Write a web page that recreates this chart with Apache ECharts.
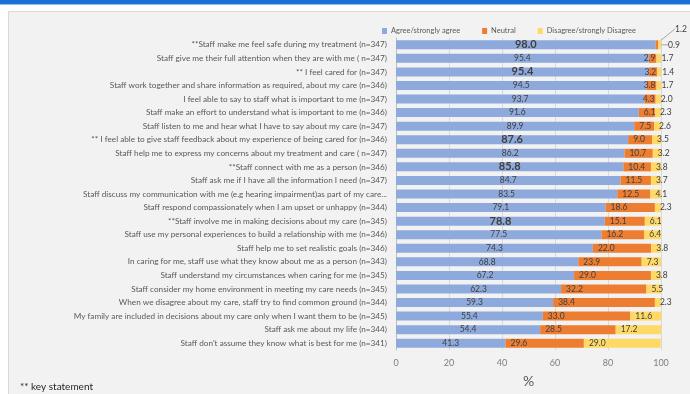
<!DOCTYPE html>
<html><head><meta charset="utf-8">
<script src="https://cdn.jsdelivr.net/npm/echarts@6/dist/echarts.min.js"></script>
<style>html,body{margin:0;padding:0;background:#fff;}#c{width:690px;height:394px;}</style>
</head><body><div id="c"></div>
<script>
var categories = [
"**Staff make me feel safe during my treatment (n=347)",
"Staff give me their full attention when they are with me ( n=347)",
"** I feel cared for (n=347)",
"Staff work together and share information as required, about my care (n=346)",
"I feel able to say to staff what is important to me (n=347)",
"Staff make an effort to understand what is important to me (n=346)",
"Staff listen to me and hear what I have to say about my care (n=347)",
"** I feel able to give staff feedback about my experience of being cared for (n=346)",
"Staff help me to express my concerns about my treatment and care ( n=347)",
"**Staff connect with me as a person (n=346)",
"Staff ask me if I have all the information I need (n=347)",
"Staff discuss my communication with me (e.g hearing impairment)as part of my care...",
"Staff respond compassionately when I am upset or unhappy (n=344)",
"**Staff involve me in making decisions about my care (n=345)",
"Staff use my personal experiences to build a relationship with me (n=346)",
"Staff help me to set realistic goals (n=346)",
"In caring for me, staff use what they know about me as a person (n=343)",
"Staff understand my circumstances when caring for me (n=345)",
"Staff consider my home environment in meeting my care needs (n=345)",
"When we disagree about my care, staff try to find common ground (n=344)",
"My family are included in decisions about my care only when I want them to be (n=345)",
"Staff ask me about my life (n=344)",
"Staff don't assume they know what is best for me (n=341)"
];
var agree = [98.0, 95.4, 95.4, 94.5, 93.7, 91.6, 89.9, 87.6, 86.2, 85.8, 84.7, 83.5, 79.1, 78.8, 77.5, 74.3, 68.8, 67.2, 62.3, 59.3, 55.4, 54.4, 41.3];
var neutral = [0.9, 2.9, 3.2, 3.8, 4.3, 6.1, 7.5, 9.0, 10.7, 10.4, 11.5, 12.5, 18.6, 15.1, 16.2, 22.0, 23.9, 29.0, 32.2, 38.4, 33.0, 28.5, 29.6];
var disagree = [1.2, 1.7, 1.4, 1.7, 2.0, 2.3, 2.6, 3.5, 3.2, 3.8, 3.7, 4.1, 2.3, 6.1, 6.4, 3.8, 7.3, 3.8, 5.5, 2.3, 11.6, 17.2, 29.0];
var keyRows = [0, 2, 7, 9, 13];
var xTicks = [0, 20, 40, 60, 80, 100];
var seriesNames = ["Agree/strongly agree", "Neutral", "Disagree/strongly Disagree"];

var FONT = "Lato";
var chart = echarts.init(document.getElementById('c'), null, {renderer: 'canvas'});

var agreeData = agree.map(function (v, i) {
  return {value: v};
});
var neutralData = neutral.map(function (v, i) {
  var d = {value: v, label: {position: v < 5 ? 'insideRight' : 'insideLeft', distance: v < 5 ? 1 : 5}};
  if (i === 0) { d.label = {position: 'right', distance: 2}; d.labelLine = {show: true}; }
  return d;
});
var disagreeData = disagree.map(function (v, i) {
  var d = {value: v};
  if (i === 0) { d.labelLine = {show: true}; }
  return d;
});

var option = {
  backgroundColor: '#ffffff',
  animation: false,
  textStyle: {fontFamily: FONT},
  graphic: [
    {type: 'rect', left: 0, top: 0, shape: {width: 690, height: 4}, style: {fill: '#1c6fd6'}, z: 0},
    {type: 'rect', left: 0, top: 4, shape: {width: 690, height: 1}, style: {fill: '#8fc4f0'}, z: 0},
    {type: 'rect', left: 8, top: 11, shape: {width: 700, height: 400}, style: {fill: '#f2f2f2', stroke: '#d9d9d9', lineWidth: 1}, z: 0, silent: true},
    {type: 'text', left: 20, top: 382, style: {text: '** key statement', fill: '#262626', font: '10px ' + FONT}, z: 5}
  ],
  legend: {
    data: seriesNames,
    left: 377, top: 22,
    itemWidth: 5, itemHeight: 6, itemGap: 22,
    icon: 'rect',
    textStyle: {color: '#595959', fontSize: 7.5, fontFamily: FONT, padding: [0, 0, 0, -1]}
  },
  grid: {left: 396, right: 29, top: 38, bottom: 44, containLabel: false},
  xAxis: {
    type: 'value', min: 0, max: 100, interval: 20,
    name: '%', nameLocation: 'middle', nameGap: 24,
    nameTextStyle: {color: '#595959', fontSize: 14, fontFamily: FONT},
    axisLine: {show: false}, axisTick: {show: false},
    axisLabel: {color: '#7f7f7f', fontSize: 9, margin: 9, fontFamily: FONT},
    splitLine: {show: true, lineStyle: {color: '#d9d9d9', width: 1}}
  },
  yAxis: {
    type: 'category', data: categories, inverse: true,
    axisLine: {show: true, lineStyle: {color: '#bfbfbf'}},
    axisTick: {show: false},
    axisLabel: {color: '#595959', fontSize: 8.2, margin: 9, fontFamily: FONT, interval: 0}
  },
  series: [
    {
      name: seriesNames[0], type: 'bar', stack: 's', barWidth: 9,
      itemStyle: {color: '#8eaadc'},
      label: {
        show: true, position: 'inside', color: '#404040', fontFamily: FONT,
        formatter: function (p) {
          var t = p.value.toFixed(1);
          return keyRows.indexOf(p.dataIndex) >= 0 ? '{b|' + t + '}' : '{n|' + t + '}';
        },
        rich: {
          b: {fontSize: 11, fontWeight: 'bold', color: '#404040', fontFamily: FONT},
          n: {fontSize: 8.5, color: '#404040', fontFamily: FONT}
        }
      },
      data: agreeData
    },
    {
      name: seriesNames[1], type: 'bar', stack: 's', barWidth: 9,
      itemStyle: {color: '#ed7d31'},
      label: {show: true, color: '#404040', fontSize: 8.5, fontFamily: FONT,
        formatter: function (p) { return p.value.toFixed(1); }},
      labelLine: {show: false, lineStyle: {color: '#a6a6a6', width: 1}},
      data: neutralData
    },
    {
      name: seriesNames[2], type: 'bar', stack: 's', barWidth: 9,
      itemStyle: {color: '#ffd966'},
      label: {show: true, position: 'insideLeft', distance: 5, color: '#404040', fontSize: 8.5, fontFamily: FONT,
        formatter: function (p) { return p.value.toFixed(1); }},
      labelLine: {show: false, lineStyle: {color: '#a6a6a6', width: 1}},
      data: disagreeData
    }
  ],
  labelLayout: function (p) {
    if (p.dataIndex === 0 && p.seriesIndex === 1) { return {dx: 8}; }
    if (p.dataIndex === 0 && p.seriesIndex === 2) { return {dx: 12, dy: -16}; }
    return {};
  }
};
chart.setOption(option);
</script></body></html>
